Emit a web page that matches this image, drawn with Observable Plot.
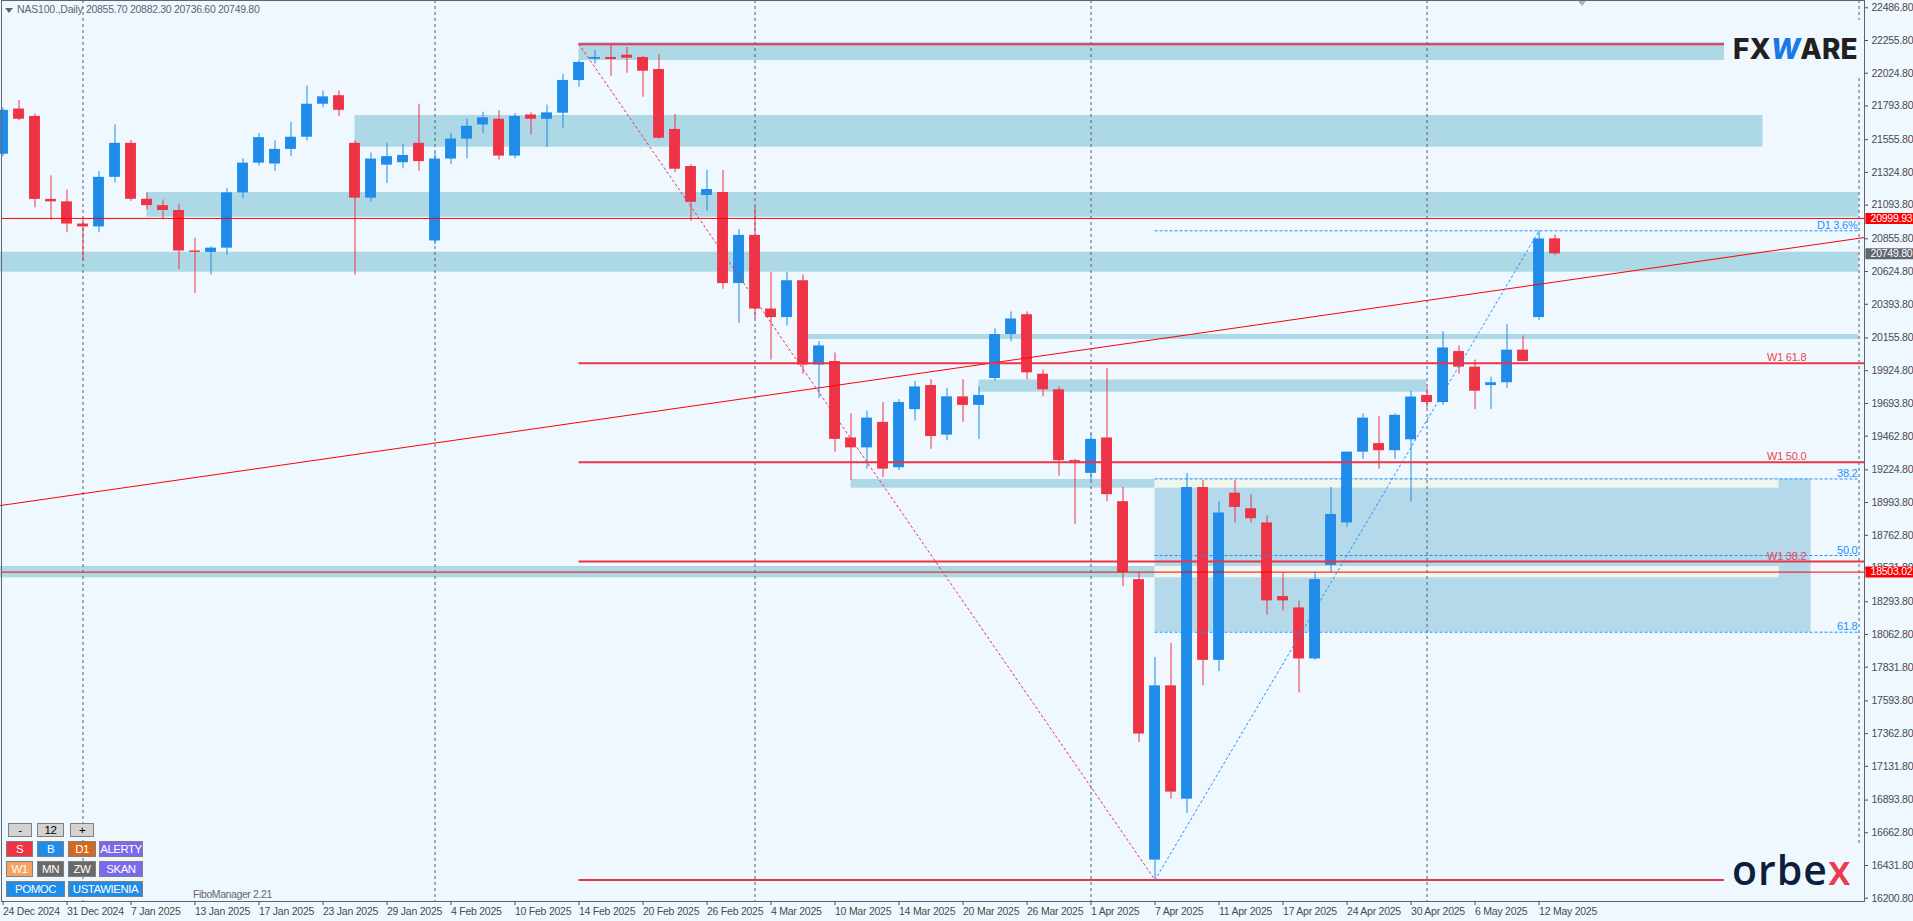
<!DOCTYPE html>
<html>
<head>
<meta charset="utf-8">
<script src="https://cdn.jsdelivr.net/npm/d3@7"></script>
<script src="https://cdn.jsdelivr.net/npm/@observablehq/plot@0.6"></script>
<style>
html,body{margin:0;padding:0;background:#f0f8ff;}
#wrap{position:relative;width:1913px;height:921px;overflow:hidden;background:#f0f8ff;font-family:"Liberation Sans",Arial,sans-serif;}
#wrap svg{position:absolute;left:0;top:0;}
#wrap svg text{letter-spacing:-0.25px;}
.ov{position:absolute;white-space:nowrap;}
.btn{position:absolute;box-sizing:border-box;border:1px solid #808080;color:#fff;font-size:11.5px;letter-spacing:-0.5px;display:flex;align-items:center;justify-content:center;}
</style>
</head>
<body>
<div id="wrap"></div>
<script>
// ---------- data ----------
const dates = ["24 Dec 2024","26 Dec 2024","27 Dec 2024","30 Dec 2024","31 Dec 2024",
"2 Jan 2025","3 Jan 2025","6 Jan 2025","7 Jan 2025","8 Jan 2025","9 Jan 2025","10 Jan 2025",
"13 Jan 2025","14 Jan 2025","15 Jan 2025","16 Jan 2025","17 Jan 2025","20 Jan 2025","21 Jan 2025",
"22 Jan 2025","23 Jan 2025","24 Jan 2025","27 Jan 2025","28 Jan 2025","29 Jan 2025","30 Jan 2025","31 Jan 2025",
"3 Feb 2025","4 Feb 2025","5 Feb 2025","6 Feb 2025","7 Feb 2025","10 Feb 2025","11 Feb 2025","12 Feb 2025",
"13 Feb 2025","14 Feb 2025","17 Feb 2025","18 Feb 2025","19 Feb 2025","20 Feb 2025","21 Feb 2025",
"24 Feb 2025","25 Feb 2025","26 Feb 2025","27 Feb 2025","28 Feb 2025",
"3 Mar 2025","4 Mar 2025","5 Mar 2025","6 Mar 2025","7 Mar 2025","10 Mar 2025","11 Mar 2025","12 Mar 2025",
"13 Mar 2025","14 Mar 2025","17 Mar 2025","18 Mar 2025","19 Mar 2025","20 Mar 2025","21 Mar 2025",
"24 Mar 2025","25 Mar 2025","26 Mar 2025","27 Mar 2025","28 Mar 2025","31 Mar 2025",
"1 Apr 2025","2 Apr 2025","3 Apr 2025","4 Apr 2025","7 Apr 2025","8 Apr 2025","9 Apr 2025","10 Apr 2025",
"11 Apr 2025","14 Apr 2025","15 Apr 2025","16 Apr 2025","17 Apr 2025","21 Apr 2025","22 Apr 2025",
"23 Apr 2025","24 Apr 2025","25 Apr 2025","28 Apr 2025","29 Apr 2025","30 Apr 2025",
"1 May 2025","2 May 2025","5 May 2025","6 May 2025","7 May 2025","8 May 2025","9 May 2025","12 May 2025","13 May 2025"];

const opens  = [21453,21772,21720,21134,21117,20960,20940,21290,21530,21135,21090,21056,20770,20760,20790,21180,21390,21384,21487,21573,21806,21866,21530,21143,21376,21393,21530,20841,21419,21560,21660,21700,21440,21730,21700,21743,21973,22124,22136,22152,22136,22051,21628,21366,21162,21183,20540,20880,20360,20300,20560,19965,19990,19450,19380,19560,19240,19650,19820,19470,19740,19680,19870,20180,20320,19900,19790,19290,19200,19450,19000,18450,16470,17700,16900,19100,17880,19060,18950,18850,18330,18250,17890,18550,18850,19350,19410,19360,19437,19750,19700,20060,19950,19820,19840,20070,20300,20855.7];
const highs  = [21780,21832,21737,21300,21200,21000,21330,21660,21550,21180,21130,21100,20860,20800,21210,21420,21600,21547,21677,21935,21900,21900,21547,21462,21530,21522,21806,21462,21600,21700,21750,21760,21740,21745,21800,22016,22115,22185,22228,22206,22143,22157,21733,21380,21338,21338,20920,21080,20620,20620,20600,20130,20050,19620,19640,19700,19720,19850,19860,19800,19860,19810,20220,20340,20340,19930,19810,19300,19480,19940,19100,18500,17900,18000,19200,19150,19000,19150,19050,18900,18500,18300,18500,19100,19350,19620,19600,19620,19780,19800,20200,20100,20000,19880,20250,20170,20912,20882.3];
const lows   = [21436,21690,21074,20988,20900,20700,20900,21250,21120,21060,20990,20640,20470,20600,20740,21140,21370,21332,21436,21547,21780,21720,20600,21117,21246,21350,21332,20816,21380,21420,21600,21410,21420,21590,21500,21637,21926,22089,22004,22025,21856,21559,21324,20980,21050,20500,20260,20290,20000,20240,19900,19730,19350,19150,19230,19170,19220,19570,19370,19430,19560,19440,19850,20130,19860,19740,19180,18840,19150,19000,18400,17300,16330,16900,16800,17700,17800,18850,18850,18200,18230,17650,17880,18500,18820,19300,19230,19300,19000,19660,19680,19900,19650,19650,19800,19990,20280,20736.6];
const closes = [21763,21700,21134,21117,20960,20940,21290,21530,21135,21090,21056,20770,20760,20790,21180,21390,21570,21487,21573,21806,21858,21763,21143,21419,21436,21444,21401,21419,21560,21650,21710,21440,21720,21700,21745,21974,22101,22136,22122,22131,22039,21566,21347,21114,21204,20540,20880,20360,20300,20560,19965,20100,19440,19380,19590,19230,19700,19810,19460,19740,19680,19750,20180,20290,19910,19790,19290,19280,19440,19050,18500,17360,17700,16950,19100,17880,18920,18960,18880,18300,18300,17890,18450,18910,19350,19590,19360,19610,19739,19700,20085,19950,19780,19840,20070,19990,20855,20749.8];

const tickIdx = [0,4,8,12,16,20,24,28,32,36,40,44,48,52,56,60,64,68,72,76,80,84,88,92,96];
const priceTicks = [22486.8,22255.8,22024.8,21793.8,21555.8,21324.8,21093.8,20855.8,20624.8,20393.8,20155.8,19924.8,19693.8,19462.8,19224.8,18993.8,18762.8,18531.8,18293.8,18062.8,17831.8,17593.8,17362.8,17131.8,16893.8,16662.8,16431.8,16200.8];
const separators = [5,27,47,68,89,116];

const zones = [
  {from:36,to:116,low:22114.7,high:22241.8},
  {from:22,to:110,low:21502.7,high:21726.4},
  {from:9,to:116,low:21008.5,high:21182.9},
  {from:-1,to:116,low:20620.2,high:20761.4},
  {from:50,to:116,low:20145,high:20180.5},
  {from:61,to:89,low:19773,high:19859},
  {from:53,to:72,low:19095.5,high:19157},
  {from:-1,to:72,low:18462.8,high:18542.6}
];
const bigZone = [{from:72,to:113,low:18078.7,high:19160.7}];
const paleZones = [{from:72,to:111,low:19095.5,high:19157},{from:72,to:111,low:18462.8,high:18542.6}];

const weeklyLevels = [{v:19977.7,label:"W1 61.8"},{v:19278.8,label:"W1 50.0"},{v:18577.8,label:"W1 38.2"}];
const weeklyAnchors = [22229.8,16329.4];
const dailyLevels = [{v:20912.5,label:"D1 3.6%"},{v:19160.7,label:"38.2"},{v:18620,label:"50.0"},{v:18078.7,label:"61.8"}];
const priceLines = [20999.93,18503.02];
const axisBoxes = [{v:20999.93,label:"20999.93",kind:"alert"},{v:20749.80,label:"20749.80",kind:"last"},{v:18503.02,label:"18503.02",kind:"alert"}];
const trendLine = [{i:-0.16,v:18973},{i:116.34,v:20865}];
const weeklySwing = [{i:36,v:22229.8},{i:72,v:16329.4}];
const dailySwing = [{i:72,v:16329.4},{i:96,v:20912.5}];

// ---------- chart ----------
const BLUE="#1e8ce8", RED="#ef3347", CRIM="#ec3347", FIBBLUE="#1e90ff";
const bars = dates.map((d,i)=>({i,date:d,o:opens[i],h:highs[i],l:lows[i],c:closes[i]}));
const col = d => d.c >= d.o ? BLUE : RED;
const FONT = '"Liberation Sans",Arial,sans-serif';

const chart = Plot.plot({
  width:1913, height:921,
  marginTop:0, marginLeft:1, marginRight:49, marginBottom:20,
  x:{domain:[-0.094,116.34]},
  y:{domain:[16177.6,22538.3]},
  style:{background:"transparent",fontFamily:FONT,fontSize:"10.5px",color:"#4a4a4a"},
  marks:[
    Plot.rect(zones,{x1:"from",x2:"to",y1:"low",y2:"high",fill:"#add8e6"}),
    Plot.rect(bigZone,{x1:"from",x2:"to",y1:"low",y2:"high",fill:"#b3d9eb"}),
    Plot.rect(paleZones,{x1:"from",x2:"to",y1:"low",y2:"high",fill:"#eef6ee"}),
    Plot.ruleX(separators,{x:d=>d,stroke:"#56606b",strokeDasharray:"3,3",strokeWidth:1}),
    Plot.ruleX(bars,{x:"i",y1:"l",y2:"h",stroke:col,strokeWidth:1}),
    Plot.rect(bars,{x1:d=>d.i-0.34,x2:d=>d.i+0.34,y1:"o",y2:"c",fill:col}),
    Plot.line(trendLine,{x:"i",y:"v",stroke:"#ff0000",strokeWidth:1}),
    Plot.ruleY(priceLines,{y:d=>d,stroke:"#ff0000",strokeWidth:1}),
    Plot.ruleY(weeklyAnchors,{y:d=>d,x1:()=>36,x2:()=>116,stroke:CRIM,strokeWidth:2}),
    Plot.ruleY(weeklyLevels,{y:"v",x1:()=>36,x2:()=>116.34,stroke:CRIM,strokeWidth:2}),
    Plot.ruleY(dailyLevels,{y:"v",x1:()=>72,x2:()=>116,stroke:FIBBLUE,strokeWidth:1,strokeDasharray:"3,2"}),
    Plot.line(weeklySwing,{x:"i",y:"v",stroke:CRIM,strokeWidth:1,strokeDasharray:"2,3"}),
    Plot.line(dailySwing,{x:"i",y:"v",stroke:FIBBLUE,strokeWidth:1,strokeDasharray:"2,3"}),
    Plot.text(weeklyLevels,{x:()=>112.7,y:"v",text:"label",textAnchor:"end",lineAnchor:"bottom",dy:-2,fill:"#ee4455",fontSize:11}),
    Plot.text(dailyLevels,{x:()=>115.9,y:"v",text:"label",textAnchor:"end",lineAnchor:"bottom",dy:-2,fill:FIBBLUE,fontSize:11}),
    Plot.frame({stroke:"#5c6670"}),
    Plot.axisY({anchor:"right",ticks:priceTicks,tickFormat:d=>d.toFixed(2),tickSize:3,tickPadding:4,fontSize:10.5,color:"#4a4a4a"}),
    Plot.axisX({anchor:"bottom",ticks:tickIdx,tickFormat:i=>dates[i],tickSize:4,tickPadding:2,textAnchor:"start",fontSize:10.5,color:"#4a4a4a"}),
    Plot.ruleY(axisBoxes,{y:"v",x1:()=>116.43,x2:()=>119.6,stroke:d=>d.kind==="alert"?"#ff0000":"#5f666c",strokeWidth:11}),
    Plot.text(axisBoxes,{y:"v",x:()=>116.72,text:"label",textAnchor:"start",fill:"white",fontSize:10.5})
  ]
});
const wrap = document.getElementById("wrap");
wrap.appendChild(chart);

// ---------- overlays ----------
function add(html, css){const d=document.createElement("div");d.className="ov";d.innerHTML=html;Object.assign(d.style,css);wrap.appendChild(d);return d;}
add('',{left:"5px",top:"8px",width:"0",height:"0",borderLeft:"4px solid transparent",borderRight:"4px solid transparent",borderTop:"5px solid #5a6572"});
add('NAS100.,Daily',{left:"17px",top:"3px",fontSize:"10.5px",letterSpacing:"-0.2px",color:"#5a6572"});
add('20855.70 20882.30 20736.60 20749.80',{left:"86px",top:"3px",fontSize:"10.5px",letterSpacing:"-0.3px",color:"#5a6572"});
add('',{left:"1578px",top:"1px",width:"0",height:"0",borderLeft:"4px solid transparent",borderRight:"4px solid transparent",borderTop:"5px solid #a8b0b8"});
add('FiboManager 2.21',{left:"193px",top:"888px",fontSize:"10.5px",letterSpacing:"-0.4px",color:"#666"});
// logos
add('<span>FX</span><span style="color:#1a78e8;font-style:italic">W</span><span>ARE</span>',{left:"1724px",top:"20px",width:"138px",height:"58px",background:"#f0f8ff",fontFamily:"Inter,'Liberation Sans',sans-serif",fontWeight:"800",fontSize:"28px",color:"#231f20",lineHeight:"58px",paddingLeft:"9px",boxSizing:"border-box"});
add('<span>orbe</span><span style="color:#ec3b4b">x</span>',{left:"1724px",top:"843px",width:"138px",height:"58px",background:"#f0f8ff",fontFamily:"'Open Sans',sans-serif",fontWeight:"600",fontSize:"41px",color:"#0e1f3d",lineHeight:"52px",paddingLeft:"8px",boxSizing:"border-box",letterSpacing:"1px"});
// buttons
const buttons = [
  ["-",8,823,24,14,"#d3d3d3","#000"],["12",37,823,27,14,"#d3d3d3","#000"],["+",70,823,24,14,"#d3d3d3","#000"],
  ["S",6,841,27,16,"#ef3346","#fff"],["B",37,841,27,16,"#1e8ce8","#fff"],["D1",68,841,28,16,"#d2691e","#fff"],["ALERTY",99,841,44,16,"#7b68ee","#fff"],
  ["W1",6,861,27,16,"#f4a460","#fff"],["MN",37,861,27,16,"#696969","#fff"],["ZW",68,861,28,16,"#696969","#fff"],["SKAN",99,861,44,16,"#7b68ee","#fff"],
  ["POMOC",6,881,59,16,"#1e8ce8","#fff"],["USTAWIENIA",68,881,75,16,"#1e8ce8","#fff"]
];
for(const [t,x,y,w,h,bg,fg] of buttons){
  const b=document.createElement("div");b.className="btn";b.textContent=t;
  Object.assign(b.style,{left:x+"px",top:y+"px",width:w+"px",height:h+"px",background:bg,color:fg});
  wrap.appendChild(b);
}
</script>
</body>
</html>
